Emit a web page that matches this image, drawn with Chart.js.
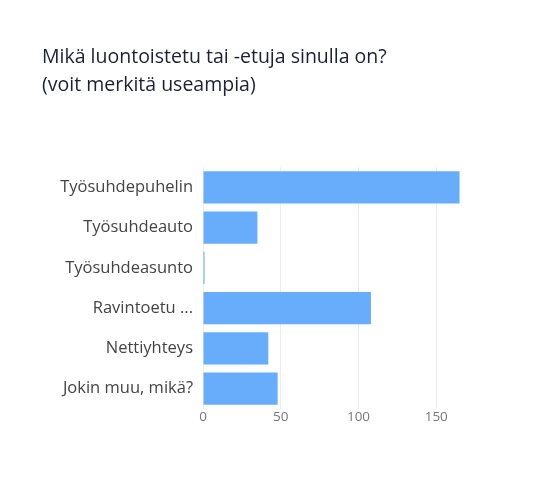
<!DOCTYPE html>
<html lang="fi">
<head>
<meta charset="UTF-8">
<title>Luontoisedut</title>
<script src="https://cdn.jsdelivr.net/npm/chart.js"></script>
<style>
  html, body { margin: 0; padding: 0; background: #fff; }
  #wrap { width: 558px; height: 481px; }
</style>
</head>
<body>
<div id="wrap"><canvas id="canvas"></canvas></div>
<script>
    // data
    const categories = ['Työsuhdepuhelin', 'Työsuhdeauto', 'Työsuhdeasunto', 'Ravintoetu ...', 'Nettiyhteys', 'Jokin muu, mikä?'];
    const counts = [165, 35, 1, 108, 42, 48];
    const tickValues = [0, 50, 100, 150];
    const titleLines = ['Mikä luontoistetu tai -etuja sinulla on?', '(voit merkitä useampia)'];

    const ctx = document.getElementById('canvas').getContext('2d');
    const chart = new Chart(ctx, {
        type: 'bar',
        data: {
            labels: categories,
            datasets: [{
                data: counts,
                backgroundColor: '#68acfc',
                barPercentage: 0.8,
                categoryPercentage: 1.0
            }]
        },
        options: {
            indexAxis: 'y',
            responsive: true,
            maintainAspectRatio: false,
            animation: false,
            layout: { padding: { left: 42, right: 86, top: 43, bottom: 56 } },
            plugins: {
                legend: { display: false },
                tooltip: { enabled: false },
                title: {
                    display: true,
                    text: titleLines,
                    align: 'start',
                    color: '#1a2035',
                    font: { family: 'Open Sans', size: 19.5, weight: '500', lineHeight: 1.44 },
                    padding: { top: 0, bottom: 68 }
                }
            },
            scales: {
                x: {
                    min: 0,
                    max: 173,
                    border: { display: false },
                    grid: { color: '#ececec', drawTicks: false, lineWidth: 1 },
                    afterBuildTicks: function (scale) {
                        scale.ticks = tickValues.map(v => ({ value: v }));
                    },
                    ticks: {
                        color: '#777',
                        padding: 0,
                        font: { family: 'Open Sans', size: 13.5 }
                    }
                },
                y: {
                    border: { display: false },
                    grid: { display: false, drawTicks: false },
                    afterFit: function (scale) { scale.width = 161; },
                    ticks: {
                        color: '#444',
                        padding: 10,
                        font: { family: 'Open Sans', size: 16.5 }
                    }
                }
            }
        }
    });
</script>
</body>
</html>
